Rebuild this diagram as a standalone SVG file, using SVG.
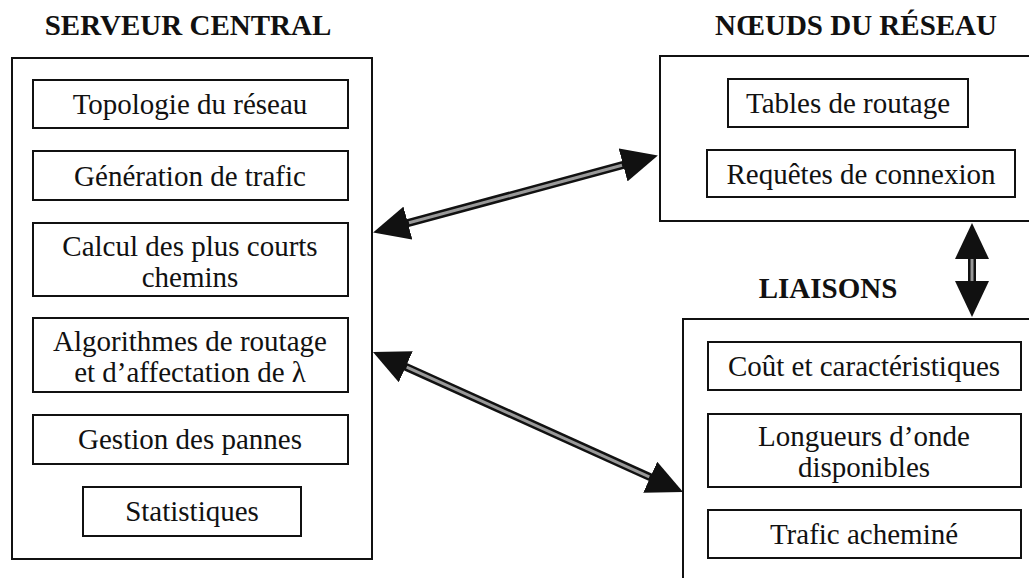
<svg xmlns="http://www.w3.org/2000/svg" width="1029" height="578" viewBox="0 0 1029 578">
  <style>
    .panel { fill: none; stroke: #111; stroke-width: 2; }
    .item { fill: #fff; stroke: #111; stroke-width: 2; }
    .title { font-family: "Liberation Serif", "Times New Roman", serif; font-weight: bold; font-size: 29px; fill: #111; text-anchor: middle; }
    .label { font-family: "Liberation Serif", "Times New Roman", serif; font-size: 29px; fill: #111; text-anchor: middle; }
    .shaft { fill: none; stroke: #111; stroke-width: 8; }
    .core { fill: none; stroke: #999; stroke-width: 3; }
  </style>
  <defs>
    <marker id="head" viewBox="0 0 36 34" refX="6" refY="17" markerWidth="36" markerHeight="34" markerUnits="userSpaceOnUse" orient="auto-start-reverse">
      <path d="M0,0 L36,17 L0,34 Z" fill="#111"/>
    </marker>
  </defs>

  <rect width="1029" height="578" fill="#fff"/>

  <!-- Central server -->
  <g id="serveur-central">
    <text class="title" x="188" y="35">SERVEUR CENTRAL</text>
    <rect class="panel" x="12" y="58" width="360" height="501"/>
    <g id="topologie">
      <rect class="item" x="33" y="80" width="315" height="48"/>
      <text class="label" x="190" y="114">Topologie du réseau</text>
    </g>
    <g id="generation-trafic">
      <rect class="item" x="33" y="151" width="315" height="49"/>
      <text class="label" x="190" y="186">Génération de trafic</text>
    </g>
    <g id="plus-courts-chemins">
      <rect class="item" x="33" y="223" width="315" height="73"/>
      <text class="label" x="190" y="256">Calcul des plus courts</text>
      <text class="label" x="190" y="287">chemins</text>
    </g>
    <g id="algorithmes">
      <rect class="item" x="33" y="318" width="315" height="74"/>
      <text class="label" x="190" y="351">Algorithmes de routage</text>
      <text class="label" x="190" y="382">et d’affectation de λ</text>
    </g>
    <g id="gestion-pannes">
      <rect class="item" x="33" y="415" width="315" height="49"/>
      <text class="label" x="190" y="449">Gestion des pannes</text>
    </g>
    <g id="statistiques">
      <rect class="item" x="83" y="487" width="218" height="49"/>
      <text class="label" x="192" y="521">Statistiques</text>
    </g>
  </g>

  <!-- Network nodes -->
  <g id="noeuds-reseau">
    <text class="title" x="856" y="35">NŒUDS DU RÉSEAU</text>
    <rect class="panel" x="660" y="56" width="400" height="165"/>
    <g id="tables-routage">
      <rect class="item" x="728" y="79" width="240" height="48"/>
      <text class="label" x="848" y="113">Tables de routage</text>
    </g>
    <g id="requetes-connexion">
      <rect class="item" x="707" y="150" width="308" height="47"/>
      <text class="label" x="861" y="184">Requêtes de connexion</text>
    </g>
  </g>

  <!-- Links -->
  <g id="liaisons">
    <text class="title" x="828" y="298">LIAISONS</text>
    <rect class="panel" x="683" y="319" width="400" height="300"/>
    <g id="cout-caracteristiques">
      <rect class="item" x="708" y="342" width="313" height="48"/>
      <text class="label" x="864" y="376">Coût et caractéristiques</text>
    </g>
    <g id="longueurs-onde">
      <rect class="item" x="708" y="414" width="313" height="73"/>
      <text class="label" x="864" y="446">Longueurs d’onde</text>
      <text class="label" x="864" y="477">disponibles</text>
    </g>
    <g id="trafic-achemine">
      <rect class="item" x="708" y="510" width="313" height="48"/>
      <text class="label" x="864" y="544">Trafic acheminé</text>
    </g>
  </g>

  <!-- Double-headed connectors -->
  <g id="connectors">
    <path class="shaft" d="M402.1,224.6 L628.9,163.4" marker-start="url(#head)" marker-end="url(#head)"/>
    <path class="core" d="M409,222.8 L622,165.3"/>
    <path class="shaft" d="M400.3,364.3 L655.7,479.7" marker-start="url(#head)" marker-end="url(#head)"/>
    <path class="core" d="M406.7,367.2 L649.3,476.8"/>
    <path class="shaft" d="M972,253 L972,287" marker-start="url(#head)" marker-end="url(#head)"/>
    <path class="core" d="M972,259 L972,281"/>
  </g>
</svg>
